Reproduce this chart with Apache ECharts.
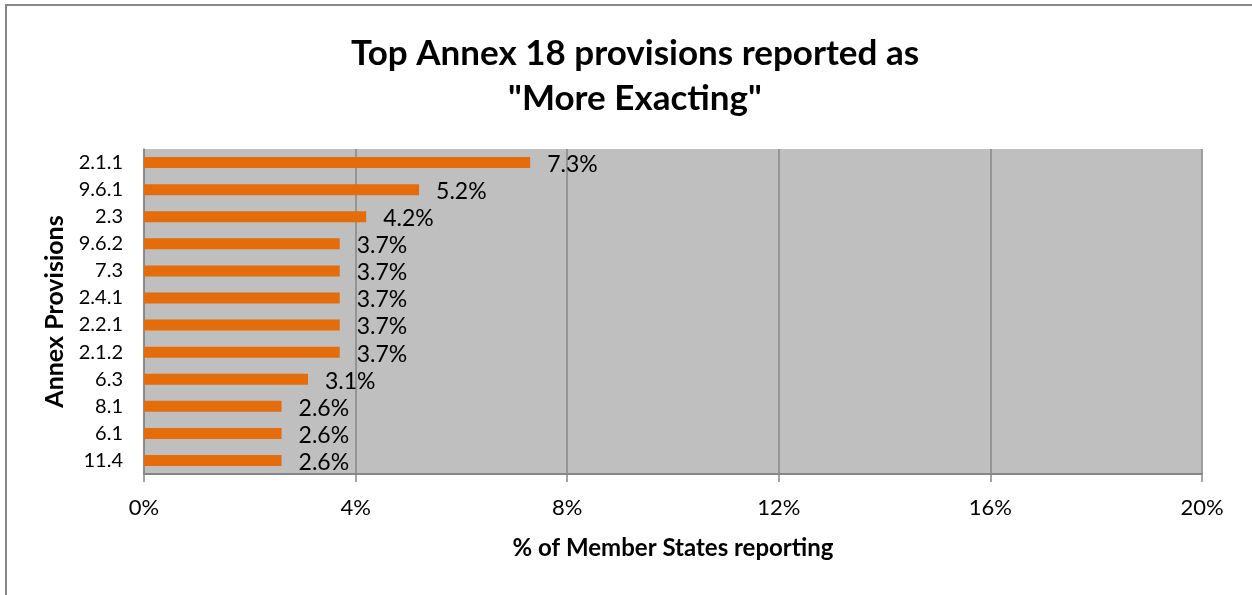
<!DOCTYPE html>
<html>
<head>
<meta charset="utf-8">
<script src="https://cdn.jsdelivr.net/npm/echarts@6/dist/echarts.min.js"></script>
<style>
html,body{margin:0;padding:0;background:#fff;}
#chart{width:1252px;height:595px;}
</style>
</head>
<body>
<div id="chart"></div>
<script>
const titleLines = ['Top Annex 18 provisions reported as', '"More Exacting"'];
const categories = ['2.1.1', '9.6.1', '2.3', '9.6.2', '7.3', '2.4.1', '2.2.1', '2.1.2', '6.3', '8.1', '6.1', '11.4'];
const values = [7.3, 5.2, 4.2, 3.7, 3.7, 3.7, 3.7, 3.7, 3.1, 2.6, 2.6, 2.6];
const xAxisName = '% of Member States reporting';
const yAxisName = 'Annex Provisions';

const FONT = 'Lato, "Open Sans", sans-serif';
const chart = echarts.init(document.getElementById('chart'), null, {renderer: 'canvas'});
chart.setOption({
  animation: false,
  backgroundColor: '#ffffff',
  graphic: [{
    type: 'rect',
    shape: {x: 6, y: 5, width: 1270, height: 620},
    style: {fill: 'none', stroke: '#878787', lineWidth: 2},
    silent: true, z: 100
  }],
  title: {
    text: titleLines.join('\n'),
    left: 630, top: 26, textAlign: 'center',
    textStyle: {fontFamily: FONT, fontSize: 35, fontWeight: 'bold', color: '#000', lineHeight: 45}
  },
  grid: {left: 144, right: 50, top: 149, bottom: 121, show: true, backgroundColor: '#BFBFBF', borderWidth: 0},
  xAxis: {
    type: 'value', min: 0, max: 20, interval: 4,
    name: xAxisName, nameLocation: 'middle', nameGap: 62,
    nameTextStyle: {fontFamily: FONT, fontSize: 24, fontWeight: 'bold', color: '#000'},
    axisLine: {show: true, lineStyle: {color: '#868686', width: 2}},
    axisTick: {show: true, length: 8, lineStyle: {color: '#868686', width: 1.5}},
    axisLabel: {formatter: '{value}%', fontFamily: FONT, fontSize: 22, color: '#000', margin: 23},
    splitLine: {show: true, lineStyle: {color: '#868686', width: 1.5}}
  },
  yAxis: {
    type: 'category', data: categories, inverse: true,
    name: yAxisName, nameLocation: 'middle', nameGap: 72, nameRotate: 90,
    nameTextStyle: {fontFamily: FONT, fontSize: 25, fontWeight: 'bold', color: '#000'},
    axisLine: {show: true, lineStyle: {color: '#868686', width: 1.5}},
    axisTick: {show: false},
    axisLabel: {fontFamily: FONT, fontSize: 20, color: '#000', margin: 21},
    splitLine: {show: false}
  },
  series: [{
    type: 'bar', data: values, barWidth: 11,
    itemStyle: {color: '#E46C0A'},
    label: {
      show: true, position: 'right', distance: 17,
      formatter: p => p.value.toFixed(1) + '%',
      fontFamily: FONT, fontSize: 23, color: '#000', offset: [0, 2]
    }
  }]
});
</script>
</body>
</html>
